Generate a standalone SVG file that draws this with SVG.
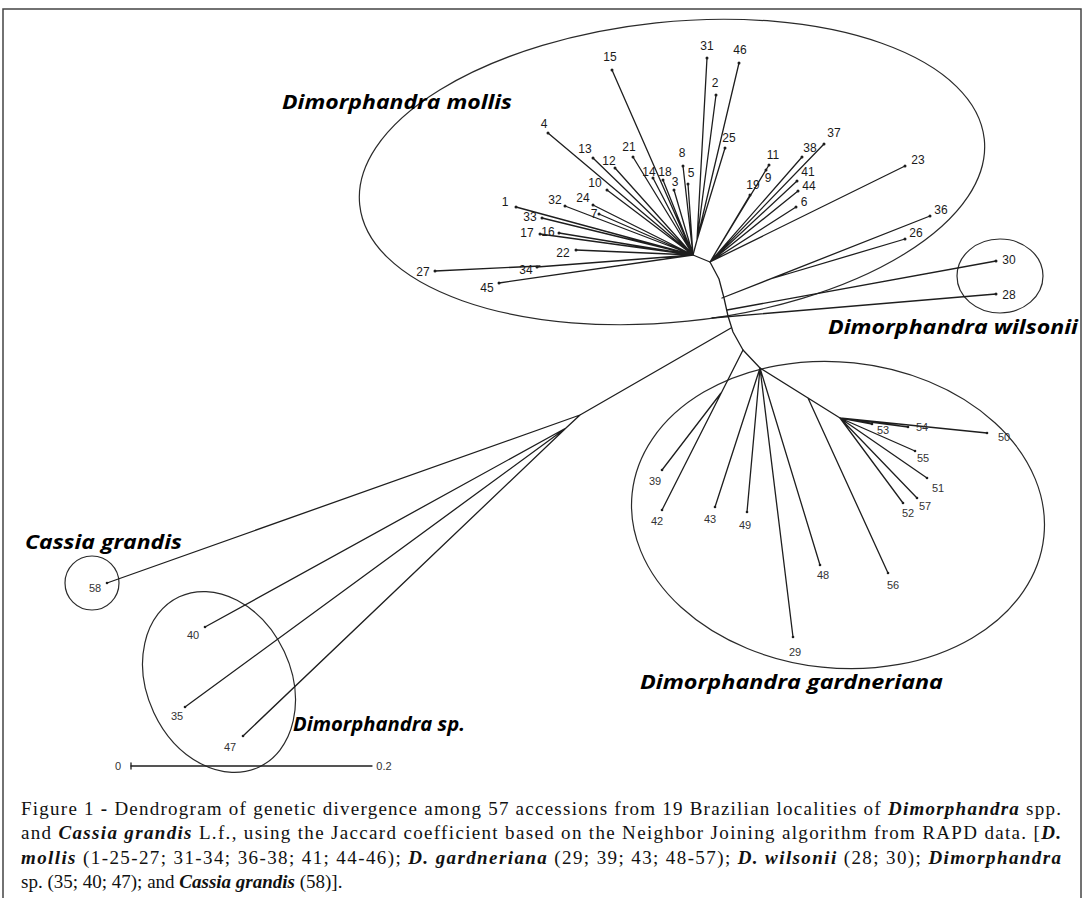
<svg xmlns="http://www.w3.org/2000/svg" width="1084" height="898" viewBox="0 0 1084 898">
<style>
.br{stroke:#1e1e1e;stroke-width:1.3;fill:none;stroke-linecap:round;stroke-linejoin:round}
.el{stroke:#2a2a2a;stroke-width:1.2;fill:none}
.n{font-family:"Liberation Sans",Arial,sans-serif;font-size:12px;fill:#1a1a1a;text-anchor:middle}
.g{font-size:11px;fill:#333}
.t{fill:#1e1e1e}
.sp{font-family:"Open Sans","DejaVu Sans",sans-serif;font-weight:bold;font-style:italic;font-size:20px;fill:#000}
.cap{font-family:"Liberation Serif","Times New Roman",serif;font-size:19px;fill:#111}
.bi{font-weight:bold;font-style:italic}
</style>
<rect x="3" y="9" width="1078" height="896" fill="none" stroke="#444" stroke-width="1.5"/>

<g id="clusters">
<g id="cl-mollis"><ellipse class="el" cx="672" cy="172" rx="314" ry="150" transform="rotate(-6 672 172)"/><text class="sp" x="282" y="109" textLength="230" lengthAdjust="spacingAndGlyphs">Dimorphandra mollis</text></g>
<g id="cl-wilsonii"><ellipse class="el" cx="1000" cy="276" rx="43" ry="37"/><text class="sp" x="828" y="334" textLength="250" lengthAdjust="spacingAndGlyphs">Dimorphandra wilsonii</text></g>
<g id="cl-gardneriana"><ellipse class="el" cx="838" cy="515" rx="207" ry="153" transform="rotate(6 838 515)"/><text class="sp" x="640" y="689" textLength="303" lengthAdjust="spacingAndGlyphs">Dimorphandra gardneriana</text></g>
<g id="cl-cassia"><circle class="el" cx="92" cy="583" r="27"/><text class="sp" x="25" y="549" textLength="157" lengthAdjust="spacingAndGlyphs">Cassia grandis</text></g>
<g id="cl-sp"><ellipse class="el" cx="219" cy="682" rx="72" ry="94" transform="rotate(-25 219 682)"/><text class="sp" x="293" y="731" textLength="172" lengthAdjust="spacingAndGlyphs">Dimorphandra sp.</text></g>
</g>

<g id="connectors" class="br">
<polyline points="693,255 710,262 719,279 724,298 728,316 733,332 743,350 760,368"/>
<path d="M693,255L612,70M693,255L548,133M693,255L593,158M693,255L615,168M693,255L633,157M693,255L653,178M693,255L663,180M693,255L674,190M693,255L683,166M693,255L688,184M693,255L607,190M693,255L593,205M693,255L599,214M693,255L565,206M693,255L516,207M693,255L542,218M693,255L540,234M693,255L559,233M693,255L576,250M693,255L537,267M540,266L435,271M693,255L499,283"/>
<path d="M693,255L697,240M697,240L707,58M697,240L739,63M697,240L716,95M697,240L725,148"/>
<path d="M710,262L750,195M710,262L769,165M710,262L766,170M710,262L802,157M710,262L824,144M710,262L797,181M710,262L798,191M710,262L796,207M710,262L905,166"/>
<path d="M722,298L930,216M767,280L905,239M727,310L996,261M712,318L996,294"/>
<path d="M731,328L580,415L107,583M580,415L566,428M566,428L205,627M566,428L185,707M566,428L243,736"/>
<path d="M743,350L662,510M721,393L662,470M760,368L715,507M760,368L747,512M760,368L793,637M760,368L820,565M760,368L840,418M808,398L888,573"/>
<path d="M840,418L872,424M840,418L908,427M840,418L987,433M840,418L915,451M840,418L927,478M840,418L917,498M840,418L903,503"/>
</g>

<g id="leaves">
<g id="n15"><circle class="t" cx="612" cy="70" r="1.5"/><text class="n" x="610" y="61">15</text></g>
<g id="n4"><circle class="t" cx="548" cy="133" r="1.5"/><text class="n" x="544" y="128">4</text></g>
<g id="n13"><circle class="t" cx="593" cy="158" r="1.5"/><text class="n" x="585" y="153">13</text></g>
<g id="n12"><circle class="t" cx="615" cy="168" r="1.5"/><text class="n" x="609" y="165">12</text></g>
<g id="n21"><circle class="t" cx="633" cy="157" r="1.5"/><text class="n" x="629" y="151">21</text></g>
<g id="n14"><circle class="t" cx="653" cy="178" r="1.5"/><text class="n" x="649" y="176">14</text></g>
<g id="n18"><circle class="t" cx="663" cy="180" r="1.5"/><text class="n" x="665" y="176">18</text></g>
<g id="n3"><circle class="t" cx="674" cy="190" r="1.5"/><text class="n" x="675" y="186">3</text></g>
<g id="n8"><circle class="t" cx="683" cy="166" r="1.5"/><text class="n" x="682" y="157">8</text></g>
<g id="n5"><circle class="t" cx="688" cy="184" r="1.5"/><text class="n" x="691" y="177">5</text></g>
<g id="n10"><circle class="t" cx="607" cy="190" r="1.5"/><text class="n" x="595" y="187">10</text></g>
<g id="n24"><circle class="t" cx="593" cy="205" r="1.5"/><text class="n" x="583" y="202">24</text></g>
<g id="n7"><circle class="t" cx="599" cy="214" r="1.5"/><text class="n" x="594" y="218">7</text></g>
<g id="n32"><circle class="t" cx="565" cy="206" r="1.5"/><text class="n" x="555" y="204">32</text></g>
<g id="n1"><circle class="t" cx="516" cy="207" r="1.5"/><text class="n" x="505" y="206">1</text></g>
<g id="n33"><circle class="t" cx="542" cy="218" r="1.5"/><text class="n" x="530" y="221">33</text></g>
<g id="n17"><circle class="t" cx="540" cy="234" r="1.5"/><text class="n" x="527" y="237">17</text></g>
<g id="n16"><circle class="t" cx="559" cy="233" r="1.5"/><text class="n" x="548" y="236">16</text></g>
<g id="n22"><circle class="t" cx="576" cy="250" r="1.5"/><text class="n" x="563" y="257">22</text></g>
<g id="n34"><circle class="t" cx="537" cy="267" r="1.5"/><text class="n" x="526" y="274">34</text></g>
<g id="n27"><circle class="t" cx="435" cy="271" r="1.5"/><text class="n" x="423" y="276">27</text></g>
<g id="n45"><circle class="t" cx="499" cy="283" r="1.5"/><text class="n" x="487" y="292">45</text></g>
<g id="n31"><circle class="t" cx="707" cy="58" r="1.5"/><text class="n" x="707" y="50">31</text></g>
<g id="n46"><circle class="t" cx="739" cy="63" r="1.5"/><text class="n" x="740" y="54">46</text></g>
<g id="n2"><circle class="t" cx="716" cy="95" r="1.5"/><text class="n" x="715" y="87">2</text></g>
<g id="n25"><circle class="t" cx="725" cy="148" r="1.5"/><text class="n" x="729" y="142">25</text></g>
<g id="n19"><circle class="t" cx="750" cy="195" r="1.5"/><text class="n" x="753" y="189">19</text></g>
<g id="n11"><circle class="t" cx="769" cy="165" r="1.5"/><text class="n" x="773" y="159">11</text></g>
<g id="n9"><circle class="t" cx="766" cy="170" r="1.5"/><text class="n" x="768" y="182">9</text></g>
<g id="n38"><circle class="t" cx="802" cy="157" r="1.5"/><text class="n" x="810" y="152">38</text></g>
<g id="n37"><circle class="t" cx="824" cy="144" r="1.5"/><text class="n" x="834" y="137">37</text></g>
<g id="n41"><circle class="t" cx="797" cy="181" r="1.5"/><text class="n" x="808" y="176">41</text></g>
<g id="n44"><circle class="t" cx="798" cy="191" r="1.5"/><text class="n" x="809" y="190">44</text></g>
<g id="n6"><circle class="t" cx="796" cy="207" r="1.5"/><text class="n" x="804" y="206">6</text></g>
<g id="n23"><circle class="t" cx="905" cy="166" r="1.5"/><text class="n" x="918" y="164">23</text></g>
<g id="n36"><circle class="t" cx="930" cy="216" r="1.5"/><text class="n" x="941" y="214">36</text></g>
<g id="n26"><circle class="t" cx="905" cy="239" r="1.5"/><text class="n" x="916" y="237">26</text></g>
<g id="n30"><circle class="t" cx="996" cy="261" r="1.5"/><text class="n" x="1009" y="264">30</text></g>
<g id="n28"><circle class="t" cx="996" cy="294" r="1.5"/><text class="n" x="1009" y="299">28</text></g>
<g id="n39"><circle class="t" cx="662" cy="470" r="1.3"/><text class="n g" x="655" y="485">39</text></g>
<g id="n42"><circle class="t" cx="662" cy="510" r="1.3"/><text class="n g" x="657" y="525">42</text></g>
<g id="n43"><circle class="t" cx="715" cy="507" r="1.3"/><text class="n g" x="710" y="523">43</text></g>
<g id="n49"><circle class="t" cx="747" cy="512" r="1.3"/><text class="n g" x="745" y="529">49</text></g>
<g id="n29"><circle class="t" cx="793" cy="637" r="1.3"/><text class="n g" x="795" y="656">29</text></g>
<g id="n48"><circle class="t" cx="820" cy="565" r="1.3"/><text class="n g" x="823" y="579">48</text></g>
<g id="n56"><circle class="t" cx="888" cy="573" r="1.3"/><text class="n g" x="893" y="589">56</text></g>
<g id="n52"><circle class="t" cx="903" cy="503" r="1.3"/><text class="n g" x="908" y="517">52</text></g>
<g id="n57"><circle class="t" cx="917" cy="498" r="1.3"/><text class="n g" x="925" y="510">57</text></g>
<g id="n51"><circle class="t" cx="927" cy="478" r="1.3"/><text class="n g" x="938" y="492">51</text></g>
<g id="n55"><circle class="t" cx="915" cy="451" r="1.3"/><text class="n g" x="923" y="462">55</text></g>
<g id="n53"><circle class="t" cx="872" cy="424" r="1.3"/><text class="n g" x="883" y="434">53</text></g>
<g id="n54"><circle class="t" cx="908" cy="427" r="1.3"/><text class="n g" x="922" y="431">54</text></g>
<g id="n50"><circle class="t" cx="987" cy="433" r="1.3"/><text class="n g" x="1004" y="441">50</text></g>
<g id="n58"><circle class="t" cx="107" cy="583" r="1.3"/><text class="n g" x="95" y="592">58</text></g>
<g id="n40"><circle class="t" cx="205" cy="627" r="1.3"/><text class="n g" x="193" y="639">40</text></g>
<g id="n35"><circle class="t" cx="185" cy="707" r="1.3"/><text class="n g" x="177" y="720">35</text></g>
<g id="n47"><circle class="t" cx="243" cy="736" r="1.3"/><text class="n g" x="230" y="751">47</text></g>
</g>

<g id="scale">
<line class="br" x1="131" y1="766" x2="372" y2="766"/>
<line class="br" x1="131" y1="763" x2="131" y2="769"/>
<text class="n g" x="118" y="770">0</text>
<text class="n g" x="384" y="770">0.2</text>
</g>

<g id="caption" class="cap">
<text x="21" y="815" textLength="1040" lengthAdjust="spacing">Figure 1 <tspan font-weight="bold">-</tspan> Dendrogram of genetic divergence among 57 accessions from 19 Brazilian localities of <tspan class="bi">Dimorphandra</tspan> spp.</text>
<text x="21" y="839" textLength="1040" lengthAdjust="spacing">and <tspan class="bi">Cassia grandis</tspan> L.f., using the Jaccard coefficient based on the Neighbor Joining algorithm from RAPD data. [<tspan class="bi">D.</tspan></text>
<text x="21" y="864" textLength="1040" lengthAdjust="spacing"><tspan class="bi">mollis</tspan> (1-25-27; 31-34; 36-38; 41; 44-46); <tspan class="bi">D. gardneriana</tspan> (29; 39; 43; 48-57); <tspan class="bi">D. wilsonii</tspan> (28; 30); <tspan class="bi">Dimorphandra</tspan></text>
<text x="21" y="888">sp. (35; 40; 47); and <tspan class="bi">Cassia grandis</tspan> (58)].</text>
</g>
</svg>
